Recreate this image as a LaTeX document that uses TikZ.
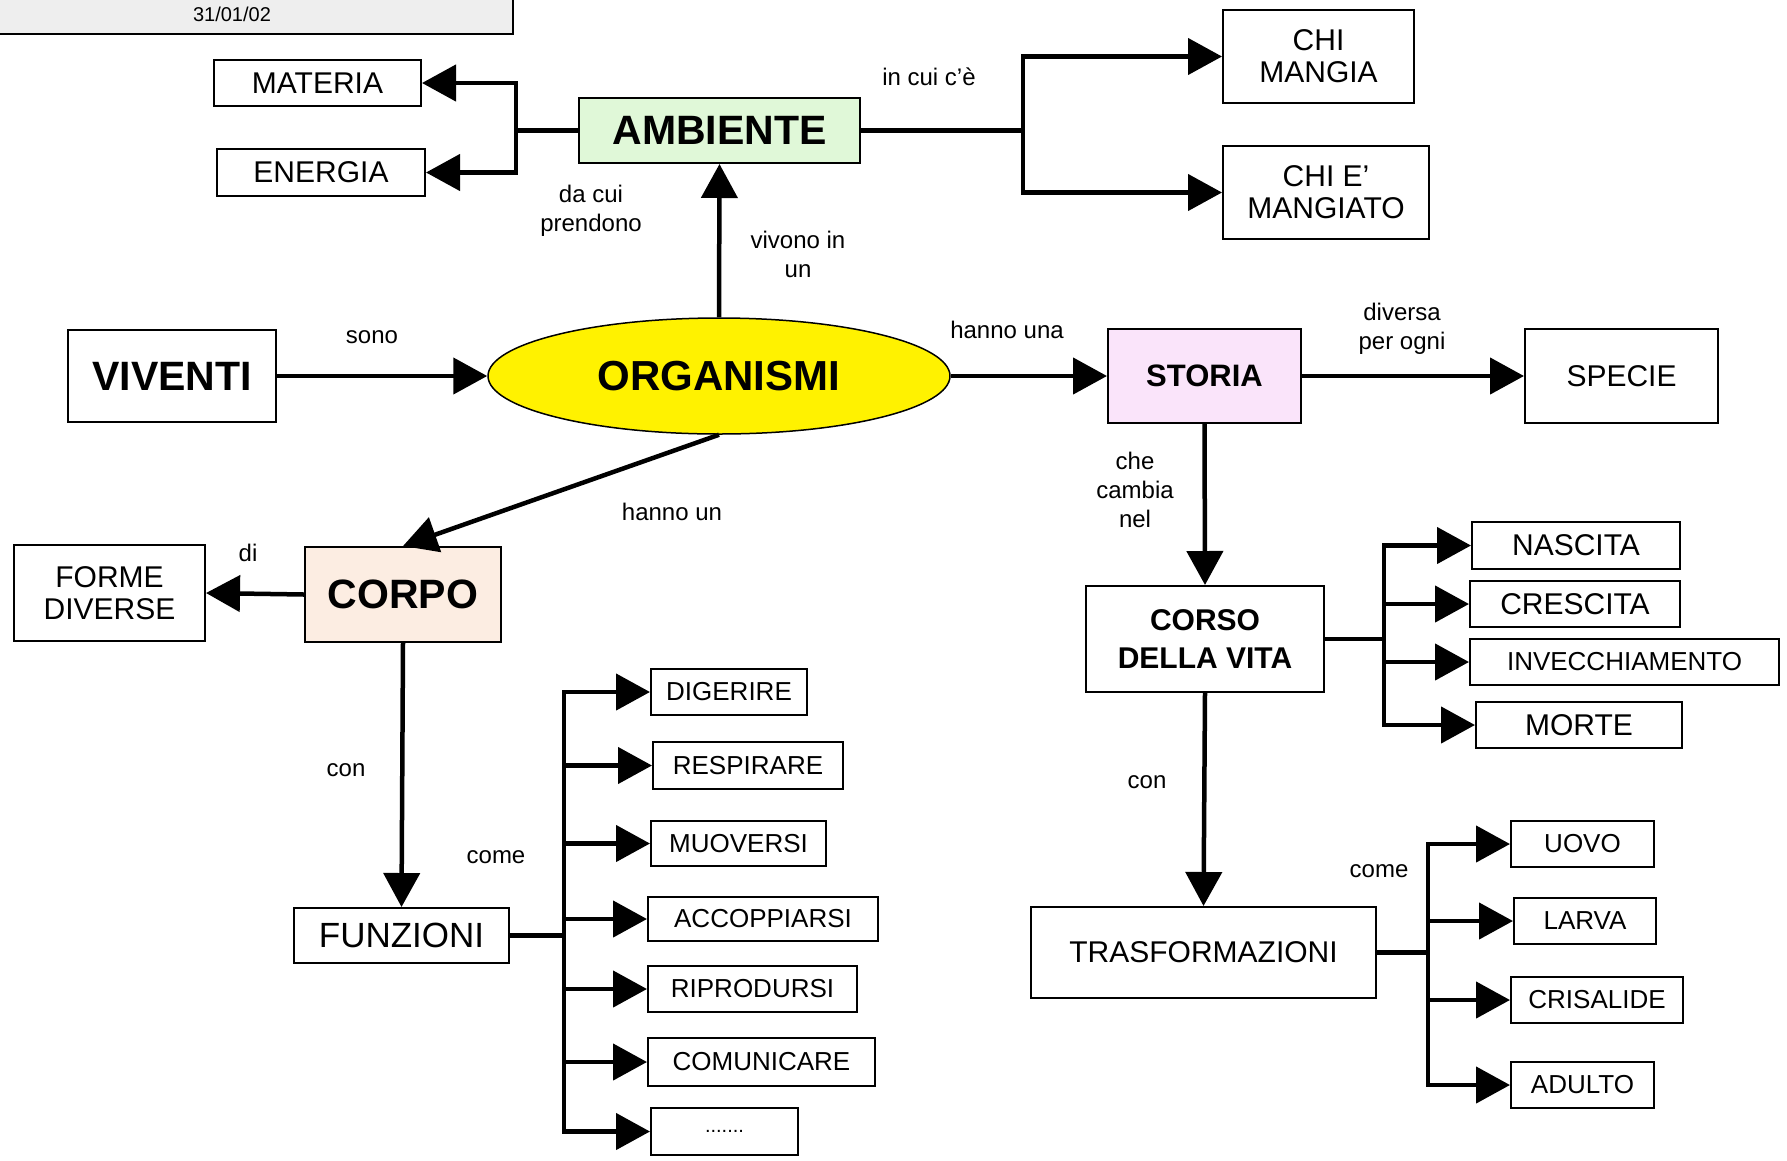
\documentclass[tikz,border=0pt]{standalone}
\usepackage{fontspec}
\setmainfont{Liberation Sans}
\usetikzlibrary{positioning, arrows.meta, shapes.geometric}
\definecolor{ambgreen}{HTML}{E0F8D8}
\definecolor{storpink}{HTML}{FAE4FA}
\definecolor{corpeach}{HTML}{FCEDE2}
\definecolor{titlegray}{HTML}{EEEEEE}

\begin{document}
\begin{tikzpicture}[x=1pt, y=-1pt,
        box/.style 2 args={draw, line width=2pt, minimum width=#1, minimum height=#2, inner sep=0pt, align=center, font=\fontsize{30}{32}\selectfont},
        smallbox/.style 2 args={box={#1}{#2}, font=\fontsize{26}{28}\selectfont},
        boldbox/.style 2 args={box={#1}{#2}, font=\fontsize{41}{41}\selectfont\bfseries},
        lab/.style={align=center, font=\fontsize{24}{29}\selectfont},
        conn/.style={line width=4.5pt},
        arr/.style={conn, -{Triangle[length=34pt, width=36pt]}}]
        \useasboundingbox (0,0) rectangle (1787,1160);

        % Title
        \begin{scope}
            \clip (0,0) rectangle (1787,1160);
            \draw[fill=titlegray, line width=2pt] (-10,-30) rectangle (513,34);
            \node[font=\fontsize{20}{20}\selectfont, anchor=base] (date) at (232,21) {31/01/02};
        \end{scope}

        % Blocks
        \node[box={207}{46}] (materia) at (317.5,83) {MATERIA};
        \node[box={208}{47}] (energia) at (321,172.5) {ENERGIA};
        \node[boldbox={281}{65}, fill=ambgreen] (ambiente) at (719.5,130.5) {AMBIENTE};
        \node[box={191}{93}] (chimangia) at (1318.5,56.5) {CHI\\MANGIA};
        \node[box={206}{93}] (chimangiato) at (1326,192.5) {CHI E'\\MANGIATO};
        \node[boldbox={208}{92}] (viventi) at (172,376) {VIVENTI};
        \node[ellipse, draw, line width=1.5pt, fill=yellow, minimum width=462, minimum height=116, inner sep=0pt,
              font=\fontsize{42}{42}\selectfont\bfseries] (organismi) at (719,376) {ORGANISMI};
        \node[boldbox={193}{94}, fill=storpink, font=\fontsize{31}{31}\selectfont\bfseries] (storia) at (1204.5,376) {STORIA};
        \node[box={193}{94}] (specie) at (1621.5,376) {SPECIE};
        \node[boldbox={238}{106}, font=\fontsize{30}{38}\selectfont\bfseries] (corso) at (1205,639) {CORSO\\DELLA VITA};
        \node[box={208}{47}] (nascita) at (1576,545.5) {NASCITA};
        \node[box={210}{46}] (crescita) at (1575,604) {CRESCITA};
        \node[smallbox={309}{46}] (invecchiamento) at (1624.5,662) {INVECCHIAMENTO};
        \node[box={206}{46}] (morte) at (1579,725) {MORTE};
        \node[box={345}{91}] (trasformazioni) at (1203.5,952.5) {TRASFORMAZIONI};
        \node[smallbox={143}{46}] (uovo) at (1582.5,844) {UOVO};
        \node[smallbox={142}{46}] (larva) at (1585,921) {LARVA};
        \node[smallbox={172}{46}] (crisalide) at (1597,1000) {CRISALIDE};
        \node[smallbox={143}{46}] (adulto) at (1582.5,1085) {ADULTO};
        \node[boldbox={196}{95}, fill=corpeach] (corpo) at (403,594.5) {CORPO};
        \node[box={191}{96}] (forme) at (109.5,593) {FORME\\DIVERSE};
        \node[box={215}{55}, font=\fontsize{35}{35}\selectfont] (funzioni) at (401.5,935.5) {FUNZIONI};
        \node[smallbox={156}{46}] (digerire) at (729,692) {DIGERIRE};
        \node[smallbox={190}{47}] (respirare) at (748,765.5) {RESPIRARE};
        \node[smallbox={175}{45}] (muoversi) at (738.5,843.5) {MUOVERSI};
        \node[smallbox={230}{44}] (accoppiarsi) at (763,919) {ACCOPPIARSI};
        \node[smallbox={209}{46}] (riprodursi) at (752.5,989) {RIPRODURSI};
        \node[smallbox={227}{48}] (comunicare) at (761.5,1062) {COMUNICARE};
        \node[smallbox={147}{47}, font=\fontsize{20}{20}\selectfont] (altro) at (724.5,1131.5) {.......};

        % Labels
        \node[lab] (dacui) at (591,211) {da cui\\prendono};
        \node[lab] (vivono) at (798,254) {vivono in\\un};
        \node[lab] (incui) at (929,77) {in cui c'è};
        \node[lab] (sono) at (372,337) {sono};
        \node[lab] (hannouna) at (1007,330) {hanno una};
        \node[lab] (diversa) at (1402,329) {diversa\\per ogni};
        \node[lab] (cambia) at (1135,490) {che\\cambia\\nel};
        \node[lab] (hannoun) at (672,512) {hanno un};
        \node[lab] (di) at (248,553) {di};
        \node[lab] (concorpo) at (346,770) {con};
        \node[lab] (comefunz) at (496,857) {come};
        \node[lab] (convita) at (1147,782) {con};
        \node[lab] (cometrasf) at (1379,871) {come};

        % Arrows
        \coordinate (bamb) at (516,130.5);
        \draw[conn] (ambiente.west) -- (bamb);
        \draw[arr] (bamb) |- (materia.east);
        \draw[arr] (bamb) |- (energia.east);
        \coordinate (bcibo) at (1023,130.5);
        \draw[conn] (ambiente.east) -- (bcibo);
        \draw[arr] (bcibo) |- (chimangia.west);
        \draw[arr] (bcibo) |- (chimangiato.west);
        \draw[arr] (organismi.north) -- (ambiente.south);
        \draw[arr] (viventi.east) -- (organismi.west);
        \draw[arr] (organismi.east) -- (storia.west);
        \draw[arr] (storia.east) -- (specie.west);
        \draw[arr] (storia.south) -- (corso.north);
        \draw[arr] (corso.south) -- (trasformazioni.north);
        \draw[arr] (organismi.south) -- (corpo.north);
        \draw[arr] (corpo.west) -- (forme.east);
        \draw[arr] (corpo.south) -- (funzioni.north);

        \coordinate (bvita) at (1384,639);
        \draw[conn] (corso.east) -- (bvita);
        \foreach \n in {nascita, crescita, invecchiamento, morte}
            \draw[arr] (bvita) |- (\n.west);
        \coordinate (btrasf) at (1428,952.5);
        \draw[conn] (trasformazioni.east) -- (btrasf);
        \foreach \n in {uovo, larva, crisalide, adulto}
            \draw[arr] (btrasf) |- (\n.west);
        \coordinate (bfunz) at (564,935.5);
        \draw[conn] (funzioni.east) -- (bfunz);
        \foreach \n in {digerire, respirare, muoversi, accoppiarsi, riprodursi, comunicare, altro}
            \draw[arr] (bfunz) |- (\n.west);
    \end{tikzpicture}
\end{document}
